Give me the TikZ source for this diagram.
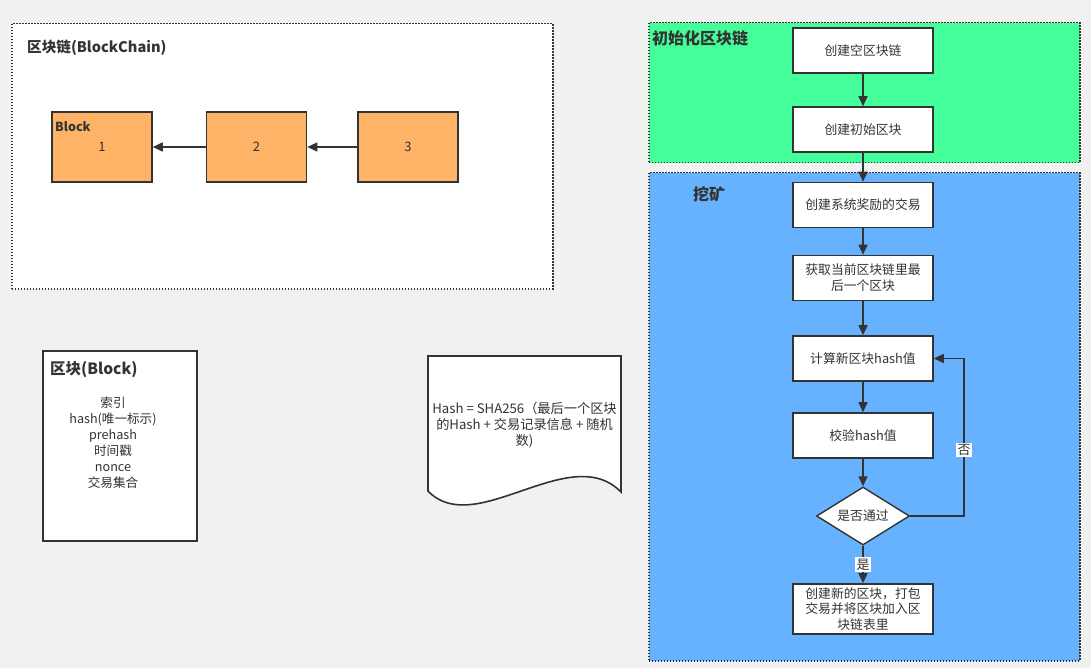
\documentclass[tikz,border=0pt]{standalone}
\usepackage{fontspec}
\setmainfont{Noto Sans CJK SC}
\usetikzlibrary{arrows.meta,shapes.geometric}
\definecolor{bg}{HTML}{F1F1F1}
\definecolor{ink}{HTML}{333333}
\definecolor{orangefill}{HTML}{FFB366}
\definecolor{greenfill}{HTML}{44FF99}
\definecolor{bluefill}{HTML}{66B2FF}
\tikzset{
  container/.style={draw=ink, line width=1.5pt, dash pattern=on 1.5pt off 1.5pt,
    anchor=north west, inner sep=0pt},
  blockbox/.style={draw=ink, line width=1.6pt, fill=orangefill, minimum width=100pt,
    minimum height=70pt, inner sep=0pt, text=ink, font=\fontsize{13}{15}\selectfont},
  stepbox/.style={draw=ink, line width=1.6pt, fill=white, minimum width=140pt,
    minimum height=45pt, inner sep=2pt, align=center, text width=134pt, text=ink,
    font=\fontsize{12.8}{16}\selectfont},
  decision/.style={diamond, aspect=1.6, draw=ink, line width=1.4pt, fill=white,
    minimum width=93pt, minimum height=58pt, inner sep=0pt, text=ink,
    font=\fontsize{12.8}{16}\selectfont},
  heading/.style={anchor=west, inner sep=0pt, text=ink, font=\fontsize{16}{20}\selectfont\bfseries},
  plain/.style={inner sep=0pt, text=ink, align=center, font=\fontsize{12.6}{16}\selectfont},
  arr/.style={draw=ink, line width=1.6pt, -{Triangle[length=10pt,width=9pt]}},
  lbl/.style={fill=white, inner sep=1.5pt, text=ink, font=\fontsize{13}{15}\selectfont},
}
\begin{document}
\begin{tikzpicture}[x=1pt,y=-1pt]
  % page background
  \fill[bg] (0,0) rectangle (1091,668);
  \useasboundingbox (0,0) rectangle (1091,668);

  % ---- block chain overview ----
  \node[container, fill=white, minimum width=541pt, minimum height=265pt] (chain) at (11,23) {};
  \node[heading, font=\fontsize{14.6}{18}\selectfont\bfseries] (chaintitle) at (27,48) {区块链(BlockChain)};
  \node[blockbox] (b1) at (102,147) {1};
  \node[anchor=west, inner sep=0pt, text=ink, font=\fontsize{12.5}{14}\selectfont\bfseries] (b1name) at (55,127) {Block};
  \node[blockbox] (b2) at (256.5,147) {2};
  \node[blockbox] (b3) at (408,147) {3};
  \draw[arr] (b2.west) -- (b1.east);
  \draw[arr] (b3.west) -- (b2.east);

  % ---- block fields ----
  \node[draw=ink, line width=1.6pt, fill=white, minimum width=154pt, minimum height=190pt,
        anchor=north west, inner sep=0pt] (fields) at (42,350) {};
  \node[heading, font=\fontsize{15.5}{19}\selectfont\bfseries] (fieldstitle) at (50,370) {区块(Block)};
  \node[plain, anchor=north] (fieldlist) at (113,397)
    {索引\\hash(唯一标示)\\prehash\\时间戳\\nonce\\交易集合};

  % ---- hash formula (document shape) ----
  \draw[ink, line width=1.6pt, fill=white]
    (428,356) -- (621,356) -- (621,492)
    .. controls (570,440) and (475,540) .. (428,491) -- cycle;
  \node[plain, font=\fontsize{13.2}{16}\selectfont] (formula) at (524.5,425)
    {Hash = SHA256（最后一个区块\\的Hash + 交易记录信息 + 随机\\数)};

  % ---- initialisation stage ----
  \node[container, fill=greenfill, minimum width=431pt, minimum height=140pt] (init) at (648,22) {};
  \node[heading] (inittitle) at (652,38) {初始化区块链};
  % ---- mining stage ----
  \node[container, fill=bluefill, minimum width=431pt, minimum height=488pt] (mine) at (648,172) {};
  \node[heading] (minetitle) at (693,194) {挖矿};

  % ---- flow steps ----
  \node[stepbox] (s1) at (863,50.5) {创建空区块链};
  \node[stepbox] (s2) at (863,129.5) {创建初始区块};
  \node[stepbox] (s3) at (863,205) {创建系统奖励的交易};
  \node[stepbox] (s4) at (863,278) {获取当前区块链里最\\后一个区块};
  \node[stepbox] (s5) at (863,358.5) {计算新区块hash值};
  \node[stepbox] (s6) at (863,435.5) {校验hash值};
  \node[decision] (check) at (863,516) {是否通过};
  \node[stepbox, minimum height=50pt, font=\fontsize{12.8}{15.5}\selectfont] (s7) at (863,609)
    {创建新的区块，打包\\交易并将区块加入区\\块链表里};

  \draw[arr] (s1) -- (s2);
  \draw[arr] (s2) -- (s3);
  \draw[arr] (s3) -- (s4);
  \draw[arr] (s4) -- (s5);
  \draw[arr] (s5) -- (s6);
  \draw[arr] (s6) -- (check);
  \draw[arr] (check) -- node[lbl] (yes) {是} (s7);
  \coordinate (loopcorner) at (964,358.5);
  \draw[arr] (check.east) -| (loopcorner) -- (s5.east);
  \node[lbl] (no) at (964,450) {否};
\end{tikzpicture}
\end{document}
